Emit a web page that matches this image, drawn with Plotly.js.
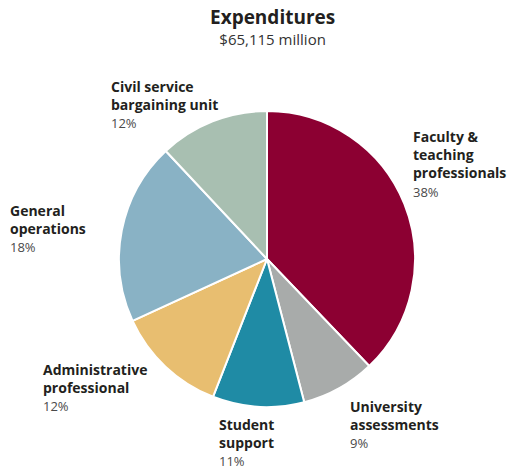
<!DOCTYPE html>
<html>
<head>
<meta charset="utf-8">
<script src="https://cdn.plot.ly/plotly-3.0.1.min.js"></script>
<style>
  html, body { margin: 0; padding: 0; background: #fff; }
  #chart { width: 520px; height: 470px; }
</style>
</head>
<body>
<div id="chart"></div>
<script>
// Categories (clockwise from 12 o'clock)
const categories = [
  "Faculty &<br>teaching<br>professionals",
  "University<br>assessments",
  "Student<br>support",
  "Administrative<br>professional",
  "General<br>operations",
  "Civil service<br>bargaining unit"
];
// Slice shares as drawn in the picture (percent of total)
const shares = [37.9, 8.1, 10.0, 12.2, 19.9, 12.0];
// Percent labels printed on the chart
const pctLabels = ["38%", "9%", "11%", "12%", "18%", "12%"];
const colors = ["#8C0032", "#A8ABAA", "#1F8BA5", "#E8BE70", "#89B2C5", "#A8BFB1"];
const titleText = "Expenditures";
const subtitleText = "$65,115 million";

const W = 520, H = 470;
// label anchor positions (top-left, in pixels)
const labelPos = [
  [411, 125], [348, 395], [217, 413], [41, 358], [8, 199], [109, 75]
];

const annotations = categories.map((c, i) => ({
  xref: "paper", yref: "paper",
  x: labelPos[i][0] / W, y: 1 - labelPos[i][1] / H,
  xanchor: "left", yanchor: "top", align: "left",
  showarrow: false,
  text: "<b>" + c + "</b><br><span style='font-size:13px;color:#4a4a4a'>" + pctLabels[i] + "</span>",
  font: { family: "Open Sans, sans-serif", size: 14, color: "#231F20" }
}));

annotations.push({
  xref: "paper", yref: "paper",
  x: 272 / W, y: 1 - 2 / H, xanchor: "center", yanchor: "top", showarrow: false,
  text: "<span style='font-size:19px;color:#231F20'><b>" + titleText + "</b></span><br><span style='font-size:15px'>" + subtitleText + "</span>",
  font: { family: "Open Sans, sans-serif", size: 16, color: "#333333" }
});

const cx = 267, cy = 259, r = 148;
const data = [{
  type: "pie",
  values: shares,
  labels: categories,
  marker: { colors: colors, line: { color: "#ffffff", width: 2 } },
  sort: false,
  direction: "clockwise",
  rotation: 0,
  textinfo: "none",
  hoverinfo: "none",
  showlegend: false,
  domain: { x: [(cx - r) / W, (cx + r) / W], y: [1 - (cy + r) / H, 1 - (cy - r) / H] }
}];

const layout = {
  width: W, height: H,
  margin: { l: 0, r: 0, t: 0, b: 0 },
  paper_bgcolor: "#ffffff",
  plot_bgcolor: "#ffffff",
  showlegend: false,
  annotations: annotations
};

Plotly.newPlot("chart", data, layout, { staticPlot: true, displayModeBar: false });
</script>
</body>
</html>
